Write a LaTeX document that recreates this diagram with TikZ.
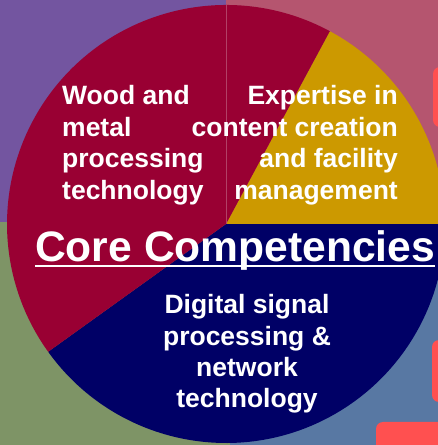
\documentclass[tikz,border=0pt]{standalone}
\usepackage{fontspec}
\setmainfont{Liberation Sans}
\usetikzlibrary{positioning,calc}
\definecolor{bgpurple}{HTML}{7355A0}
\definecolor{bgpink}{HTML}{B5556F}
\definecolor{bggreen}{HTML}{7E9466}
\definecolor{bgblue}{HTML}{5878A3}
\definecolor{piecrimson}{HTML}{990033}
\definecolor{pieyellow}{HTML}{CC9900}
\definecolor{pienavy}{HTML}{000066}
\definecolor{tabred}{HTML}{FF5050}
\tikzset{
    pietext/.style = {text=white, inner sep=0pt,
        font=\bfseries\fontsize{26.5}{31.5}\selectfont},
    titletext/.style = {text=white, inner sep=0pt,
        font=\bfseries\fontsize{42.6}{48}\selectfont},
    tab/.style = {fill=tabred, rounded corners=7pt}
}

\begin{document}
\begin{tikzpicture}[x=1pt,y=1pt]
        \clip (0,0) rectangle (438,445);
        % background quarters
        \fill [bgpurple] (0,223) rectangle (226,445);
        \fill [bgpink] (226,223) rectangle (438,445);
        \fill [bggreen] (0,0) rectangle (230,223);
        \fill [bgblue] (230,0) rectangle (438,223);
        % tabs at the right edge
        \fill [tab] (433,318) rectangle (470,378);
        \fill [tab] (432,43) rectangle (470,105);
        \fill [tab] (376,-20) rectangle (470,23);
        % pie
        \coordinate (ctr) at (226,221);
        \fill [pienavy] (ctr) -- ++(215.7:219) arc[start angle=215.7, end angle=360, radius=219] -- cycle;
        \fill [pieyellow] (ctr) -- ++(0:219) arc[start angle=0, end angle=61.7, radius=219] -- cycle;
        \fill [piecrimson] (ctr) -- ++(61.7:219) arc[start angle=61.7, end angle=215.7, radius=219] -- cycle;
        \draw [piecrimson!75!white, line width=0.6pt] (ctr) -- ++(90:219);
        % labels (base = last line)
        \node [pietext, align=left, anchor=base west] (wood) at (62,245.5)
            {Wood and\\metal\\processing\\technology};
        \node [pietext, align=right, anchor=base east] (expert) at (398,245.5)
            {Expertise in\\content creation\\and facility\\management};
        \node [pietext, align=center, anchor=base] (dsp) at (247,37)
            {Digital signal\\processing \&\\network\\technology};
        \node [titletext, anchor=base west] (core) at (35,183) {Core Competencies};
        \draw [white, line width=2pt] ([yshift=-4pt]core.base west) -- ([yshift=-4pt]core.base east);
\end{tikzpicture}
\end{document}
